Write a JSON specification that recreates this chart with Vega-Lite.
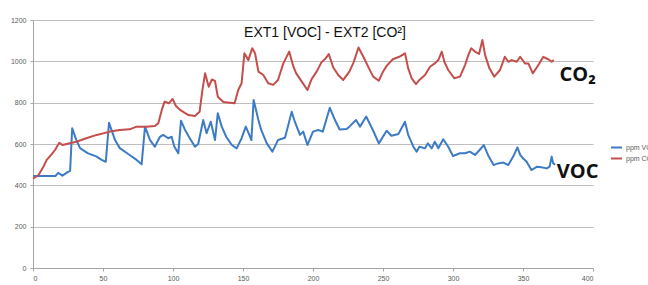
{
  "$schema": "https://vega.github.io/schema/vega-lite/v6.json",
  "width": 560,
  "height": 248,
  "autosize": "none",
  "padding": {"left": 33, "top": 20, "right": 55, "bottom": 17},
  "background": "white",
  "config": {"view": {"stroke": null}, "font": "Liberation Sans"},
  "title": {"text": "EXT1 [VOC] - EXT2 [CO²]", "font": "Liberation Sans", "fontSize": 14, "fontWeight": "normal", "color": "#111111", "anchor": "middle", "orient": "top", "offset": 0, "baseline": "alphabetic", "dy": 35, "dx": 12},
  "datasets": {
    "voc": [
      {"t":0,"v":445},{"t":16,"v":445},{"t":18,"v":460},{"t":21,"v":447},{"t":25,"v":465},{"t":26.5,"v":470},{"t":28,"v":676},{"t":31,"v":619},{"t":33.6,"v":580},{"t":39,"v":556},{"t":45.5,"v":539},{"t":49,"v":523},{"t":52,"v":514},{"t":54.3,"v":703},{"t":58.6,"v":619},{"t":62,"v":580},{"t":69,"v":547},{"t":74,"v":523},{"t":77.6,"v":502},{"t":80,"v":684},{"t":83.6,"v":619},{"t":87,"v":587},{"t":90.7,"v":635},{"t":93,"v":644},{"t":96.6,"v":628},{"t":99,"v":635},{"t":101,"v":587},{"t":103.8,"v":555},{"t":105.7,"v":713},{"t":108.6,"v":668},{"t":112,"v":628},{"t":115.7,"v":587},{"t":118,"v":600},{"t":121.6,"v":716},{"t":124,"v":652},{"t":127,"v":708},{"t":130,"v":619},{"t":132,"v":749},{"t":134.8,"v":684},{"t":138,"v":635},{"t":142,"v":595},{"t":145.5,"v":579},{"t":149,"v":628},{"t":152,"v":684},{"t":154.5,"v":644},{"t":156,"v":619},{"t":157.6,"v":813},{"t":161,"v":716},{"t":163,"v":668},{"t":167,"v":603},{"t":171,"v":563},{"t":175,"v":619},{"t":180,"v":630},{"t":184.8,"v":756},{"t":187,"v":708},{"t":190.7,"v":644},{"t":193,"v":660},{"t":196,"v":595},{"t":200,"v":660},{"t":203.8,"v":668},{"t":207,"v":660},{"t":212,"v":775},{"t":215.7,"v":716},{"t":219,"v":670},{"t":224,"v":672},{"t":226,"v":684},{"t":230.7,"v":716},{"t":233.6,"v":684},{"t":238,"v":733},{"t":243,"v":664},{"t":247,"v":603},{"t":252.6,"v":664},{"t":256,"v":640},{"t":261,"v":648},{"t":265.7,"v":708},{"t":268,"v":644},{"t":271.7,"v":587},{"t":274,"v":563},{"t":276,"v":587},{"t":280,"v":579},{"t":282,"v":603},{"t":284.8,"v":579},{"t":287,"v":611},{"t":289.5,"v":579},{"t":293,"v":623},{"t":296.6,"v":587},{"t":300,"v":542},{"t":305,"v":555},{"t":308.6,"v":555},{"t":312,"v":563},{"t":315.7,"v":547},{"t":319,"v":571},{"t":322,"v":595},{"t":325,"v":547},{"t":329,"v":498},{"t":332,"v":506},{"t":336,"v":510},{"t":339.5,"v":498},{"t":343,"v":539},{"t":346,"v":584},{"t":348,"v":547},{"t":350,"v":531},{"t":352.6,"v":514},{"t":356,"v":474},{"t":360,"v":490},{"t":363,"v":487},{"t":367,"v":482},{"t":369,"v":490},{"t":370.5,"v":539},{"t":371.6,"v":506},{"t":373,"v":500}
    ],
    "co2": [
      {"t":0,"v":432},{"t":4,"v":450},{"t":7.4,"v":490},{"t":9.8,"v":523},{"t":13,"v":547},{"t":15.7,"v":571},{"t":18.8,"v":606},{"t":21,"v":595},{"t":24,"v":600},{"t":31,"v":611},{"t":38,"v":628},{"t":45.5,"v":644},{"t":55,"v":660},{"t":62,"v":668},{"t":69,"v":671},{"t":74,"v":684},{"t":81,"v":684},{"t":87,"v":687},{"t":89.5,"v":700},{"t":92,"v":765},{"t":94,"v":805},{"t":97,"v":797},{"t":99.7,"v":818},{"t":102,"v":785},{"t":105,"v":765},{"t":111,"v":740},{"t":115.7,"v":735},{"t":119,"v":756},{"t":121,"v":861},{"t":122.9,"v":942},{"t":125.5,"v":877},{"t":127.8,"v":912},{"t":130,"v":905},{"t":132,"v":829},{"t":136,"v":803},{"t":140.7,"v":800},{"t":144,"v":797},{"t":146.6,"v":861},{"t":149,"v":894},{"t":151,"v":1039},{"t":153.8,"v":1006},{"t":156.6,"v":1063},{"t":158.6,"v":1039},{"t":161,"v":950},{"t":164.5,"v":934},{"t":168,"v":894},{"t":171.6,"v":886},{"t":175,"v":910},{"t":178.8,"v":990},{"t":183,"v":1047},{"t":186,"v":974},{"t":188,"v":942},{"t":192,"v":902},{"t":196,"v":861},{"t":199,"v":914},{"t":202.6,"v":950},{"t":206,"v":995},{"t":209,"v":1014},{"t":211.3,"v":1035},{"t":214.5,"v":970},{"t":218,"v":934},{"t":221.6,"v":910},{"t":226,"v":950},{"t":229,"v":995},{"t":232.5,"v":1067},{"t":236,"v":1022},{"t":240,"v":966},{"t":243,"v":926},{"t":247,"v":906},{"t":250,"v":950},{"t":252.6,"v":978},{"t":257,"v":1010},{"t":261.6,"v":1022},{"t":265.7,"v":1039},{"t":268,"v":966},{"t":270.5,"v":918},{"t":273.6,"v":890},{"t":276,"v":910},{"t":280,"v":934},{"t":283.6,"v":974},{"t":287,"v":990},{"t":289.5,"v":1006},{"t":292,"v":1047},{"t":293.8,"v":998},{"t":296.6,"v":958},{"t":301,"v":918},{"t":305,"v":926},{"t":308.6,"v":982},{"t":311,"v":1031},{"t":313,"v":1063},{"t":315.7,"v":1047},{"t":318.6,"v":1036},{"t":321,"v":1103},{"t":322.9,"v":1031},{"t":326,"v":966},{"t":329.5,"v":926},{"t":333.6,"v":958},{"t":337,"v":1022},{"t":339.5,"v":998},{"t":342,"v":1006},{"t":345.5,"v":998},{"t":348,"v":1022},{"t":351.4,"v":990},{"t":353.8,"v":990},{"t":357,"v":942},{"t":361,"v":982},{"t":364.5,"v":1022},{"t":368,"v":1010},{"t":370.5,"v":998},{"t":372,"v":1006}
    ],
    "labels": [
      {"t":389,"v":933,"label":"CO₂"},
      {"t":389,"v":465,"label":"VOC"}
    ]
  },
  "layer": [
    {
      "data": {"name": "voc"},
      "transform": [{"calculate": "'ppm VOC'", "as": "series"}],
      "mark": {"type": "line", "strokeWidth": 2, "interpolate": "linear", "strokeJoin": "round"},
      "encoding": {
        "x": {"field": "t", "type": "quantitative", "scale": {"domain": [0, 400], "nice": false},
          "axis": {"values": [0,50,100,150,200,250,300,350,400], "grid": false, "title": null, "domainColor": "#a6a6a6", "tickColor": "#a6a6a6", "tickSize": 3, "labelFontSize": 7, "labelColor": "#595959", "labelPadding": 3, "labelFont": "Liberation Sans"}},
        "y": {"field": "v", "type": "quantitative", "scale": {"domain": [0, 1200], "nice": false},
          "axis": {"values": [0,200,400,600,800,1000,1200], "format": "d", "grid": true, "gridColor": "#bfbfbf", "gridWidth": 1, "title": null, "domainColor": "#a6a6a6", "tickColor": "#a6a6a6", "tickSize": 3, "labelFontSize": 7, "labelColor": "#595959", "labelPadding": 4, "labelFont": "Liberation Sans"}},
        "color": {"field": "series", "type": "nominal",
          "scale": {"domain": ["ppm VOC", "ppm CO2"], "range": ["#3d7bc6", "#c44e4b"]},
          "legend": {"title": null, "orient": "none", "legendX": 577, "legendY": 121, "symbolType": "stroke", "symbolSize": 121, "symbolStrokeWidth": 2, "labelFontSize": 7, "labelColor": "#595959", "rowPadding": 0, "labelOffset": 3, "padding": 0}}
      }
    },
    {
      "data": {"name": "co2"},
      "transform": [{"calculate": "'ppm CO2'", "as": "series"}],
      "mark": {"type": "line", "strokeWidth": 2, "interpolate": "linear", "strokeJoin": "round"},
      "encoding": {
        "x": {"field": "t", "type": "quantitative"},
        "y": {"field": "v", "type": "quantitative"},
        "color": {"field": "series", "type": "nominal"}
      }
    },
    {
      "data": {"name": "labels"},
      "mark": {"type": "text", "font": "Open Sans", "fontWeight": "bold", "fontSize": 20, "color": "#111111", "align": "center", "baseline": "middle", "clip": false},
      "encoding": {
        "x": {"field": "t", "type": "quantitative"},
        "y": {"field": "v", "type": "quantitative"},
        "text": {"field": "label"}
      }
    }
  ]
}
